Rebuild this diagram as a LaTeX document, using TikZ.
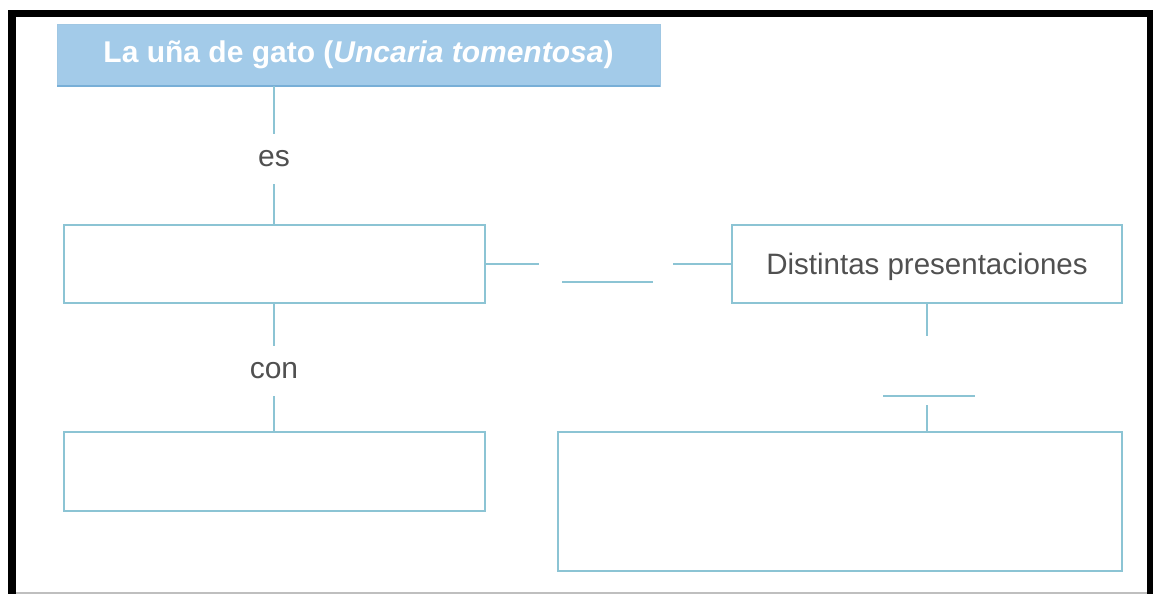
\documentclass[tikz,border=0pt]{standalone}
\usepackage{fontspec}
\setmainfont{Liberation Sans}
\definecolor{boxline}{RGB}{140,196,212}
\definecolor{titlefill}{RGB}{163,203,233}
\definecolor{titleedge}{RGB}{120,175,215}
\definecolor{txtgray}{RGB}{80,80,80}
\begin{document}
\begin{tikzpicture}[x=1pt,y=-1pt,
  box/.style={draw=boxline, line width=2pt, inner sep=0pt, outer sep=0pt, rectangle},
  conn/.style={draw=boxline, line width=2pt},
  lbl/.style={fill=white, inner sep=0pt, minimum height=50pt, yshift=-3pt, font=\fontsize{30}{36}\selectfont, text=txtgray},
  titlebox/.style={fill=titlefill, draw=titleedge!70, line width=0.8pt, inner sep=0pt, outer sep=0pt,
    text=white, font=\fontsize{30}{36}\selectfont\bfseries, text height=22pt, text depth=6pt}]
\useasboundingbox (0,0) rectangle (1153,594);
% frame
\fill[black] (8,10) rectangle (1153,17);
\fill[black] (8,10) rectangle (16,594);
\fill[black] (1147,10) rectangle (1153,594);
\draw[black!25, line width=2pt] (16,592.5) -- (1147,592.5);
% nodes
\node[titlebox, minimum width=603pt, minimum height=62pt] (title) at (358.5,55) {La uña de gato (\textit{Uncaria tomentosa})};
\draw[titleedge, line width=1.6pt] (title.south west) -- (title.south east);
\node[box, minimum width=421pt, minimum height=78pt] (box1) at (274,264) {};
\node[box, minimum width=421pt, minimum height=79pt] (box3) at (274,471.5) {};
\node[box, minimum width=390pt, minimum height=78pt, font=\fontsize{29.5}{35}\selectfont, text=txtgray, text height=26pt, text depth=6pt] (box2) at (927,264) {Distintas presentaciones};
\node[box, minimum width=564pt, minimum height=139pt] (box4) at (840,501.5) {};
% connectors
\draw[conn] (title.south -| box1.north) -- node[lbl] {es} (box1.north);
\draw[conn] (box1.south) -- node[lbl] {con} (box3.north);
\coordinate (h1) at (539,264);
\coordinate (m1) at (562,282);
\coordinate (m2) at (653,282);
\coordinate (h2) at (673,264);
\draw[conn] (box1.east) -- (h1);
\draw[conn] (m1) -- (m2);
\draw[conn] (h2) -- (box2.west);
\coordinate (v1) at (927,336);
\coordinate (b1) at (883,396);
\coordinate (b2) at (975,396);
\coordinate (v2) at (927,405);
\draw[conn] (box2.south) -- (v1);
\draw[conn] (b1) -- (b2);
\draw[conn] (v2) -- (box4.north -| v2);
\end{tikzpicture}
\end{document}
